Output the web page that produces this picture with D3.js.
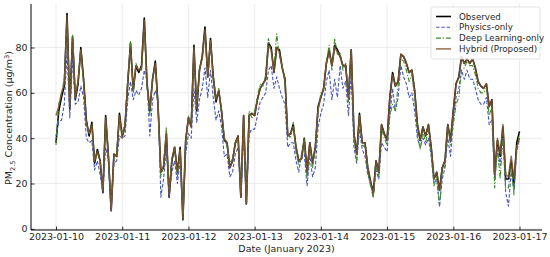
<!DOCTYPE html>
<html lang="en">
<head>
<meta charset="UTF-8" />
<title>PM2.5 model comparison</title>
<script src="https://d3js.org/d3.v7.min.js"></script>
<style>
  body { margin: 0; background: #fff; }
  svg { display: block; font-family: "DejaVu Sans", sans-serif; }
  .grid line { stroke: #e6e6e6; stroke-width: 0.8; }
</style>
</head>
<body>
<div id="chart"></div>
<script>
  // x tick labels (days)
  const tickLabels = ["2023-01-10", "2023-01-11", "2023-01-12", "2023-01-13",
                      "2023-01-14", "2023-01-15", "2023-01-16", "2023-01-17"];
  const yTicks = [0, 20, 40, 60, 80];

  // hourly values, 2023-01-10 00:00 .. 2023-01-17 00:00
  const observed = [
    38,52,58,63,95,53,85,57,64,80, 66,48,41,47,29,35,30,16,50,32,
    8,33,32,51,41,45,64,82,61,72, 69,72,93,64,52,66,74,54,25,27,
    42,14,30,36,25,36,4,39,49,45, 81,52,70,76,89,67,84,67,56,61,
    52,39,38,27,30,38,41,14,50,11, 50,51,50,57,62,64,66,82,80,69,
    80,79,71,66,41,42,46,36,30,31, 40,25,38,29,36,54,58,62,73,79,
    72,81,79,76,72,72,58,79,42,33, 51,38,38,27,21,16,30,25,46,42,
    39,58,69,63,65,77,76,73,69,70, 61,46,39,45,41,46,36,22,25,17,
    27,30,46,39,52,64,67,76,73,75, 73,75,71,65,63,62,64,54,57,24,
    39,32,45,22,22,30,20,38,43
  ];
  const physicsOnly = [
    41,47,48,55,78,49,75,55,56,63, 58,40,38,39,26,30,24,16,36,30,
    8,29,30,41,40,41,57,65,57,61, 59,62,70,65,41,57,61,57,14,22,
    36,14,25,30,20,30,5,33,42,40, 62,47,57,62,71,58,70,58,48,52,
    45,32,33,23,25,33,36,14,42,11, 42,44,44,50,56,58,60,70,72,62,
    67,62,58,55,36,38,38,30,25,33, 33,19,32,23,27,45,51,55,65,70,
    57,66,58,72,62,65,50,68,36,29, 44,35,32,24,20,14,26,22,38,36,
    34,50,62,52,58,72,67,64,58,60, 52,40,36,40,37,40,32,20,22,10,
    22,27,40,32,48,58,62,70,66,70, 66,66,62,57,55,55,58,46,48,22,
    35,28,40,16,10,25,17,34,40
  ];
  const deepLearningOnly = [
    37,55,60,66,90,55,86,58,66,79, 64,46,42,45,30,34,29,18,48,31,
    10,32,33,49,42,47,66,83,60,73, 70,70,88,62,50,67,72,52,23,28,
    45,17,31,35,23,35,6,37,50,46, 79,54,71,74,86,68,83,68,58,62,
    50,40,36,29,31,37,40,16,48,13, 52,49,52,58,64,63,68,84,78,71,
    86,76,72,64,42,40,47,34,28,33, 40,22,36,27,35,52,60,61,74,81,
    70,84,77,78,70,73,56,78,40,30, 50,37,36,25,19,14,28,23,44,40,
    37,50,55,52,63,75,74,70,65,68, 58,42,35,43,38,44,33,19,23,10,
    25,28,44,37,46,55,58,70,71,74, 72,72,68,62,60,60,62,50,54,18,
    36,22,42,18,18,28,15,36,42
  ];
  const hybrid = [
    50,54,60,64,94,54,84,58,65,79, 65,47,42,46,30,34,30,17,49,32,
    8,33,32,50,40,46,65,80,62,72, 70,71,92,64,53,66,73,54,25,28,
    42,15,31,36,25,35,4,39,49,45, 80,53,70,76,88,67,83,66,57,61,
    52,40,38,27,30,38,41,14,50,11, 50,51,50,57,62,64,66,81,79,69,
    80,78,71,66,41,42,45,36,30,31, 39,25,38,29,36,53,58,62,73,78,
    72,80,78,76,72,72,58,79,42,33, 50,38,38,27,21,15,30,25,46,42,
    39,58,68,63,65,77,76,73,69,70, 61,46,39,45,41,46,36,22,25,17,
    27,30,46,39,52,64,67,76,73,75, 73,75,71,65,63,62,64,54,57,24,
    40,33,46,24,23,32,22,36,40
  ];

  const seriesNames = ["Observed", "Physics-only", "Deep Learning-only", "Hybrid (Proposed)"];

  const width = 550, height = 257;
  const plotLeft = 31, plotRight = 542, plotTop = 4, plotBottom = 230;

  const parse = d3.timeParse("%Y-%m-%d");
  const start = parse(tickLabels[0]);
  const times = d3.timeHour.range(start, d3.timeHour.offset(start, observed.length));

  const x = d3.scaleTime()
    .domain([parse(tickLabels[0]), parse(tickLabels[tickLabels.length - 1])])
    .range([56, 519.5]);
  const y = d3.scaleLinear().domain([-0.5, 99.2]).range([plotBottom, plotTop]);

  const svg = d3.select("#chart").append("svg")
    .attr("width", width)
    .attr("height", height);

  // grid
  svg.append("g").attr("class", "grid")
    .selectAll("line").data(tickLabels).join("line")
    .attr("x1", d => x(parse(d))).attr("x2", d => x(parse(d)))
    .attr("y1", plotTop).attr("y2", plotBottom);
  svg.append("g").attr("class", "grid")
    .selectAll("line").data(yTicks).join("line")
    .attr("x1", plotLeft).attr("x2", plotRight)
    .attr("y1", d => y(d)).attr("y2", d => y(d));

  // lines
  const styles = [
    { data: observed, color: "#000000", width: 1.6, dash: null, opacity: 1 },
    { data: physicsOnly, color: "#4455bb", width: 1.1, dash: "3.5,1.8", opacity: 1 },
    { data: deepLearningOnly, color: "#3f8a2a", width: 1.1, dash: "5,1.8,1.2,1.8", opacity: 1 },
    { data: hybrid, color: "#7f5530", width: 1.5, dash: null, opacity: 0.85 }
  ];

  const line = d3.line()
    .x((d, i) => x(times[i]))
    .y(d => y(d));

  styles.forEach(s => {
    svg.append("path")
      .attr("d", line(s.data))
      .attr("fill", "none")
      .attr("stroke", s.color)
      .attr("stroke-width", s.width)
      .attr("stroke-opacity", s.opacity)
      .attr("stroke-linejoin", "round")
      .attr("stroke-dasharray", s.dash);
  });

  // axes (ticks point inward)
  const xAxis = d3.axisBottom(x)
    .tickValues(tickLabels.map(parse))
    .tickFormat(d3.timeFormat("%Y-%m-%d"))
    .tickSize(-3.5).tickPadding(3);
  const gx = svg.append("g").attr("transform", `translate(0,${plotBottom})`).call(xAxis);
  gx.select(".domain").remove();

  const yAxis = d3.axisLeft(y).tickValues(yTicks).tickSize(-3.5).tickPadding(3.5);
  const gy = svg.append("g").attr("transform", `translate(${plotLeft},0)`).call(yAxis);
  gy.select(".domain").remove();

  [gx, gy].forEach(g => g.attr("font-family", null).attr("font-size", null));
  svg.selectAll(".tick line").attr("stroke", "#000").attr("stroke-width", 0.8);
  svg.selectAll(".tick text").attr("fill", "#262626").style("font-size", "9.5px");

  // spines
  svg.append("line").attr("x1", plotLeft).attr("x2", plotLeft).attr("y1", plotTop).attr("y2", plotBottom)
    .attr("stroke", "#000").attr("stroke-width", 1);
  svg.append("line").attr("x1", plotLeft).attr("x2", plotRight).attr("y1", plotBottom).attr("y2", plotBottom)
    .attr("stroke", "#000").attr("stroke-width", 1);

  // axis labels
  svg.append("text")
    .attr("x", (plotLeft + plotRight) / 2).attr("y", 252)
    .attr("text-anchor", "middle")
    .style("font-size", "9.5px").attr("fill", "#262626")
    .text("Date (January 2023)");

  const yl = svg.append("text")
    .attr("transform", "translate(12,118) rotate(-90)")
    .attr("text-anchor", "middle")
    .style("font-size", "9.5px").attr("fill", "#262626");
  yl.append("tspan").text("PM");
  yl.append("tspan").attr("dy", 2.5).style("font-size", "6.6px").text("2.5");
  yl.append("tspan").attr("dy", -2.5).text(" Concentration (μg/m");
  yl.append("tspan").attr("dy", -3.5).style("font-size", "6.6px").text("3");
  yl.append("tspan").attr("dy", 3.5).text(")");

  // legend
  const lg = svg.append("g").attr("transform", "translate(431,7)");
  lg.append("rect")
    .attr("width", 109).attr("height", 52).attr("rx", 2)
    .attr("fill", "#fff").attr("fill-opacity", 0.85)
    .attr("stroke", "#dcdcdc").attr("stroke-width", 0.8);
  seriesNames.forEach((name, i) => {
    const s = styles[i];
    const row = lg.append("g").attr("transform", `translate(0,${9.5 + i * 10.8})`);
    row.append("line")
      .attr("x1", 5).attr("x2", 20)
      .attr("stroke", s.color).attr("stroke-width", s.width)
      .attr("stroke-opacity", s.opacity)
      .attr("stroke-dasharray", s.dash);
    row.append("text")
      .attr("x", 28).attr("dy", "0.35em")
      .style("font-size", "8.7px").attr("fill", "#262626")
      .text(name);
  });
</script>
</body>
</html>
